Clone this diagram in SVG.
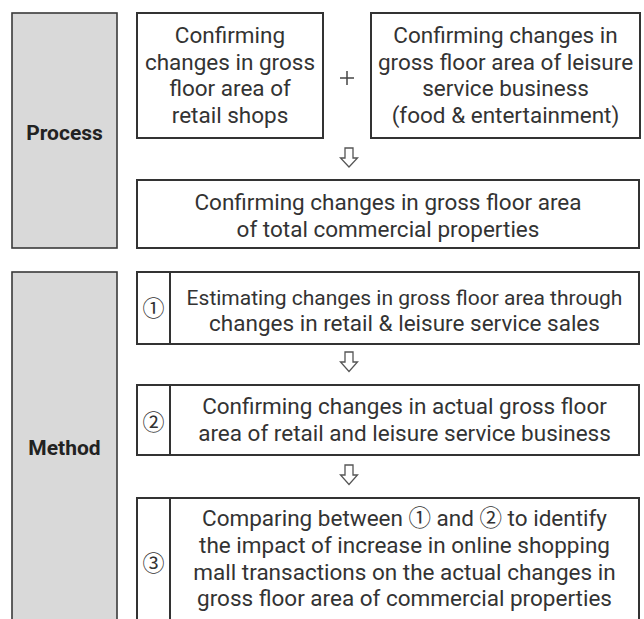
<svg xmlns="http://www.w3.org/2000/svg" width="644" height="619" viewBox="0 0 644 619">
<style>
.bg{fill:#ffffff}
.cat{fill:#d9d9d9;stroke:#3a3a3a;stroke-width:1.6}
.box{fill:#ffffff;stroke:#333333;stroke-width:2}
.div{stroke:#333333;stroke-width:2}
.t{font-family:Roboto,"Noto Sans CJK KR","Liberation Sans",sans-serif;font-size:22.5px;fill:#333333;text-anchor:middle}
.h{font-family:Roboto,"Liberation Sans",sans-serif;font-size:21px;font-weight:bold;fill:#222222;text-anchor:middle}
.n{font-family:"Noto Sans CJK KR","DejaVu Sans",sans-serif;font-size:22px;fill:#333333;text-anchor:middle}
.arr{fill:#ffffff;stroke:#555555;stroke-width:1.3;stroke-linejoin:miter}
.plus{stroke:#444444;stroke-width:1.5}
</style>
<rect class="bg" x="0" y="0" width="644" height="619"/>

<g id="process-label">
<rect class="cat" x="12" y="13" width="105" height="235"/>
<text class="h" x="64.5" y="140">Process</text>
</g>

<g id="method-label">
<rect class="cat" x="12" y="272" width="105" height="360"/>
<text class="h" x="64.5" y="455">Method</text>
</g>

<g id="retail">
<rect class="box" x="137" y="13" width="186" height="125"/>
<text class="t" x="230" y="43">Confirming</text>
<text class="t" x="230" y="70">changes in gross</text>
<text class="t" x="230" y="96">floor area of</text>
<text class="t" x="230" y="123">retail shops</text>
</g>

<g id="leisure">
<rect class="box" x="371" y="13" width="269" height="125"/>
<text class="t" x="505.5" y="43">Confirming changes in</text>
<text class="t" x="505.5" y="70">gross floor area of leisure</text>
<text class="t" x="505.5" y="96">service business</text>
<text class="t" x="505.5" y="123">(food &amp; entertainment)</text>
</g>

<g id="total">
<rect class="box" x="137" y="180" width="502" height="68"/>
<text class="t" x="388" y="210">Confirming changes in gross floor area</text>
<text class="t" x="388" y="237">of total commercial properties</text>
</g>

<g id="step1">
<rect class="box" x="137" y="272" width="502" height="72"/>
<line class="div" x1="170" y1="272" x2="170" y2="344"/>
<text class="n" x="153.5" y="316">①</text>
<text class="t" x="404.5" y="305" style="font-size:21px">Estimating changes in gross floor area through</text>
<text class="t" x="404.5" y="331">changes in retail &amp; leisure service sales</text>
</g>

<g id="step2">
<rect class="box" x="137" y="385" width="502" height="70"/>
<line class="div" x1="170" y1="385" x2="170" y2="455"/>
<text class="n" x="153.5" y="430">②</text>
<text class="t" x="404.5" y="414">Confirming changes in actual gross floor</text>
<text class="t" x="404.5" y="441">area of retail and leisure service business</text>
</g>

<g id="step3">
<rect class="box" x="137" y="498" width="502" height="134"/>
<line class="div" x1="170" y1="498" x2="170" y2="632"/>
<text class="n" x="153.5" y="571">③</text>
<text class="t" x="404.5" y="526">Comparing between ① and ② to identify</text>
<text class="t" x="404.5" y="553">the impact of increase in online shopping</text>
<text class="t" x="404.5" y="580">mall transactions on the actual changes in</text>
<text class="t" x="404.5" y="606">gross floor area of commercial properties</text>
</g>

<g id="connectors">
<line class="plus" x1="340" y1="78" x2="354" y2="78"/>
<line class="plus" x1="347" y1="71" x2="347" y2="85"/>
<path class="arr" d="M345 148 h8 v10 h4.5 l-8.5 9 l-8.5 -9 h4.5 z"/>
<path class="arr" d="M345 352 h8 v10 h4.5 l-8.5 9.5 l-8.5 -9.5 h4.5 z"/>
<path class="arr" d="M345 465 h8 v10 h4.5 l-8.5 9.5 l-8.5 -9.5 h4.5 z"/>
</g>
</svg>
